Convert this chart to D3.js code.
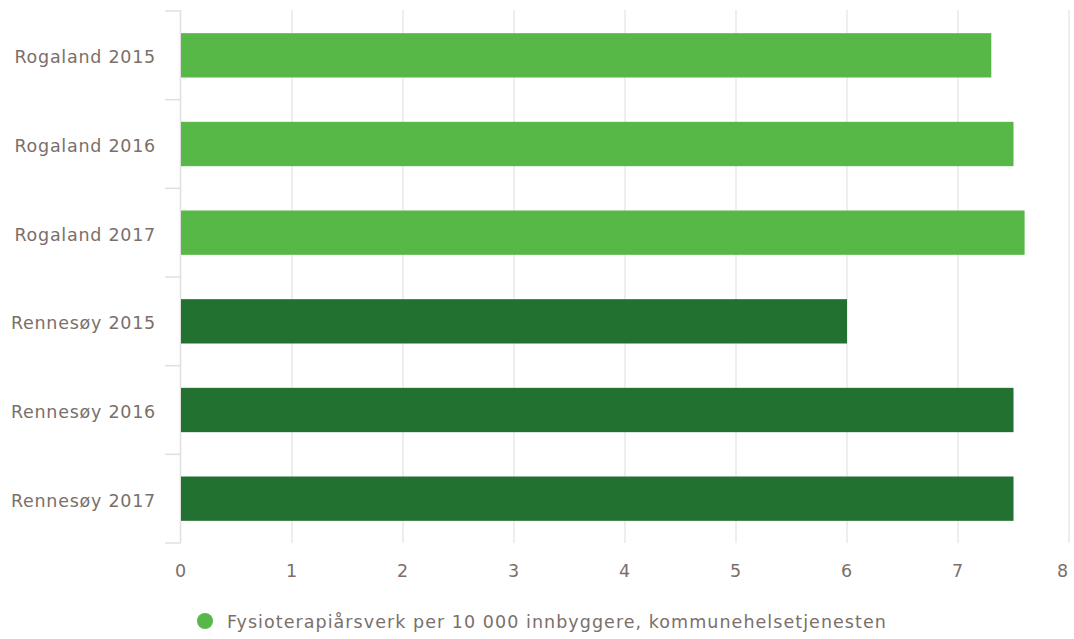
<!DOCTYPE html>
<html><head><meta charset="utf-8">
<script src="https://cdn.jsdelivr.net/npm/d3@7"></script>
<style>body{margin:0;background:#fff}svg{display:block}text{font-family:"DejaVu Sans",sans-serif;letter-spacing:0.75px}</style>
</head><body><svg id="c" width="1074" height="639"></svg>
<script>
const categories = ["Rogaland 2015","Rogaland 2016","Rogaland 2017","Rennesøy 2015","Rennesøy 2016","Rennesøy 2017"];
const values = [7.3, 7.5, 7.6, 6.0, 7.5, 7.5];
const groups = ["Rogaland","Rogaland","Rogaland","Rennesøy","Rennesøy","Rennesøy"];
const xTicks = [0,1,2,3,4,5,6,7,8];
const legendLabel = "Fysioterapiårsverk per 10 000 innbyggere, kommunehelsetjenesten";
const colors = {"Rogaland":"#57b847","Rennesøy":"#227130"};

(function(){
const svg = d3.select("#c");
const mL = 181, mR = 1069, mT = 11, mB = 543;
const x = d3.scaleLinear().domain([0,8]).range([mL,mR]);
const y = d3.scaleBand().domain(categories).range([mT,mB]).paddingInner(0.5).paddingOuter(0.25);
const band = d3.scaleBand().domain(categories).range([mT,mB]);
const txt = "#7a6f6a";
const fs = 17.5;

svg.append("g").selectAll("line").data(xTicks.slice(1)).join("line")
  .attr("x1",d=>x(d)).attr("x2",d=>x(d)).attr("y1",mT-1).attr("y2",mB)
  .attr("stroke","#e8e8e8").attr("stroke-width",1.5);

svg.append("line").attr("x1",mL-0.5).attr("x2",mL-0.5).attr("y1",mT-1).attr("y2",mB)
  .attr("stroke","#e0e0e0").attr("stroke-width",1.5);
const bounds = categories.map(c=>band(c)).concat([mB]);
svg.append("g").selectAll("line").data(bounds).join("line")
  .attr("x1",165).attr("x2",mL).attr("y1",d=>d).attr("y2",d=>d)
  .attr("stroke","#e0e0e0").attr("stroke-width",1.5);

svg.append("g").selectAll("rect").data(categories).join("rect")
  .attr("x",x(0)).attr("y",d=>y(d)).attr("height",y.bandwidth())
  .attr("width",(d,i)=>x(values[i])-x(0)).attr("fill",(d,i)=>colors[groups[i]]);

svg.append("g").selectAll("text").data(categories).join("text")
  .attr("x",156).attr("y",d=>y(d)+y.bandwidth()/2+2).attr("dy","0.35em")
  .attr("text-anchor","end").attr("fill",txt).attr("font-size",fs).text(d=>d);

svg.append("g").selectAll("text").data(xTicks).join("text")
  .attr("x",(d,i)=>i===xTicks.length-1 ? x(d)-6 : x(d)).attr("y",577).attr("text-anchor","middle")
  .attr("fill",txt).attr("font-size",fs).text(d=>d);

svg.append("circle").attr("cx",205).attr("cy",621).attr("r",8).attr("fill",colors["Rogaland"]);
svg.append("text").attr("x",227).attr("y",622).attr("dy","0.35em").attr("fill",txt)
  .attr("font-size",fs).style("letter-spacing","1.05px").text(legendLabel);
})();
</script></body></html>
